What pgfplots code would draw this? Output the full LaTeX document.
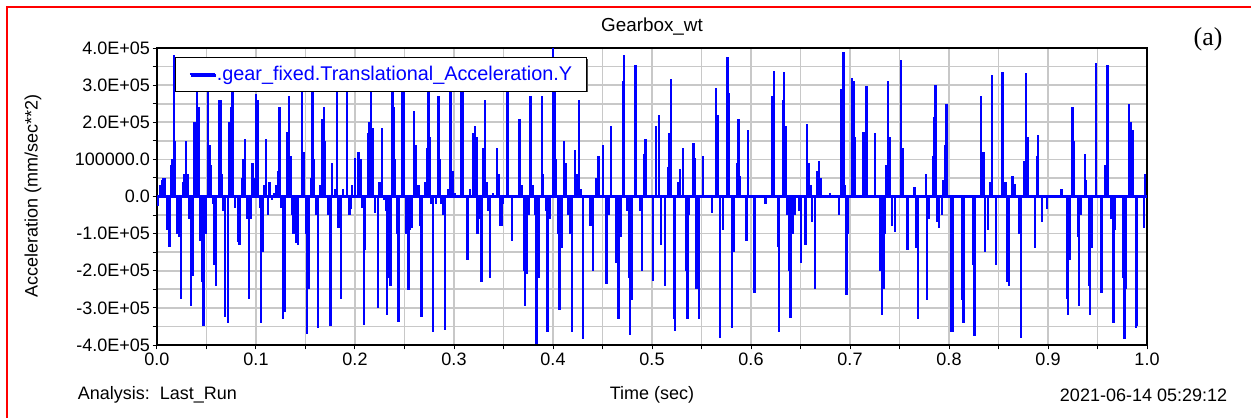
\documentclass[border=0pt]{standalone}
\usepackage{fontspec}
\setmainfont{Liberation Sans}
\newfontfamily\timesf{Liberation Serif}
\usepackage{pgfplots}
\usepackage{pgfplotstable}
\pgfplotsset{compat=1.18}
\usetikzlibrary{shadows}
\newcommand\lbl{\fontsize{10.8}{13}\selectfont}
\newcommand\lgd{\fontsize{11.9}{14}\selectfont}
\definecolor{gridgray}{RGB}{200,200,200}

\pgfplotstableread{
t v
0.0010 -25000
0.0034 30000
0.0051 45000
0.0067 50000
0.0084 50000
0.0101 -90000
0.0125 -137000
0.0145 85000
0.0158 100000
0.0172 380000
0.0185 150000
0.0202 -100000
0.0222 -110000
0.0242 -275000
0.0263 40000
0.0276 60000
0.0290 150000
0.0310 60000
0.0323 -60000
0.0343 -295000
0.0364 -215000
0.0380 200000
0.0404 320000
0.0421 240000
0.0438 -120000
0.0455 -230000
0.0471 -350000
0.0498 -100000
0.0515 330000
0.0532 140000
0.0545 85000
0.0566 -20000
0.0582 -185000
0.0599 -240000
0.0623 260000
0.0640 260000
0.0657 60000
0.0667 -40000
0.0690 -325000
0.0714 -340000
0.0734 200000
0.0747 240000
0.0764 330000
0.0791 -30000
0.0815 -123000
0.0835 -130000
0.0859 50000
0.0869 100000
0.0892 155000
0.0909 -60000
0.0929 -275000
0.0943 -60000
0.0966 90000
0.0983 50000
0.1003 275000
0.1017 260000
0.1044 -30000
0.1050 -340000
0.1067 -150000
0.1084 30000
0.1101 155000
0.1118 -50000
0.1138 40000
0.1162 -10000
0.1185 10000
0.1205 30000
0.1222 70000
0.1239 240000
0.1253 -30000
0.1273 -330000
0.1293 -310000
0.1313 175000
0.1330 270000
0.1347 110000
0.1364 -50000
0.1380 -100000
0.1404 -125000
0.1421 -130000
0.1465 300000
0.1488 120000
0.1502 -100000
0.1515 -370000
0.1532 -250000
0.1556 50000
0.1572 300000
0.1589 100000
0.1609 -50000
0.1626 -355000
0.1650 30000
0.1667 210000
0.1684 240000
0.1700 150000
0.1724 -50000
0.1751 -350000
0.1768 90000
0.1795 20000
0.1818 300000
0.1835 -85000
0.1859 -275000
0.1879 20000
0.1919 330000
0.1943 -50000
0.1953 -35000
0.1970 30000
0.2003 105000
0.2037 120000
0.2061 100000
0.2077 -30000
0.2090 -345000
0.2104 -145000
0.2128 170000
0.2145 200000
0.2162 300000
0.2182 185000
0.2205 -45000
0.2229 -300000
0.2249 40000
0.2273 185000
0.2290 -10000
0.2310 -40000
0.2323 -320000
0.2337 -220000
0.2357 -240000
0.2380 300000
0.2391 240000
0.2407 100000
0.2424 -100000
0.2441 -339000
0.2481 290000
0.2495 330000
0.2515 -100000
0.2539 -253000
0.2556 -90000
0.2572 -85000
0.2596 230000
0.2616 140000
0.2640 30000
0.2657 -80000
0.2673 -325000
0.2707 40000
0.2724 130000
0.2741 300000
0.2758 160000
0.2774 -20000
0.2791 -364000
0.2818 -20000
0.2842 270000
0.2859 100000
0.2875 -20000
0.2892 -50000
0.2909 -360000
0.2943 20000
0.2966 320000
0.2987 70000
0.3010 10000
0.3077 290000
0.3094 290000
0.3128 -130000
0.3135 -170000
0.3162 20000
0.3195 170000
0.3212 190000
0.3229 160000
0.3239 -100000
0.3256 -60000
0.3279 -231000
0.3296 130000
0.3313 260000
0.3330 40000
0.3347 -40000
0.3364 -220000
0.3397 10000
0.3431 130000
0.3448 60000
0.3465 -80000
0.3481 -80000
0.3498 -20000
0.3542 320000
0.3566 5000
0.3586 -120000
0.3660 210000
0.3684 30000
0.3707 -200000
0.3717 -294000
0.3734 -210000
0.3758 -50000
0.3774 270000
0.3795 30000
0.3818 -50000
0.3835 -398000
0.3852 -220000
0.3886 270000
0.3902 60000
0.3929 -40000
0.3946 -364000
0.3970 -60000
0.3997 400000
0.4020 310000
0.4030 100000
0.4054 -100000
0.4064 -305000
0.4088 -140000
0.4111 150000
0.4131 90000
0.4155 -50000
0.4172 -100000
0.4189 -364000
0.4222 125000
0.4239 60000
0.4263 261000
0.4279 20000
0.4306 -385000
0.4357 5000
0.4380 -80000
0.4407 -200000
0.4434 50000
0.4458 110000
0.4502 140000
0.4542 -235000
0.4559 -50000
0.4586 190000
0.4633 -180000
0.4660 -330000
0.4684 -110000
0.4704 310000
0.4717 381000
0.4754 -40000
0.4768 -220000
0.4778 -373000
0.4795 -280000
0.4835 353000
0.4879 -40000
0.4902 -200000
0.4923 115000
0.4936 155000
0.5007 -190000
0.5013 -228000
0.5040 190000
0.5074 220000
0.5091 -130000
0.5131 -240000
0.5165 80000
0.5175 170000
0.5189 317000
0.5222 -330000
0.5232 -361000
0.5266 40000
0.5283 75000
0.5316 130000
0.5343 -200000
0.5360 -330000
0.5377 -50000
0.5418 145000
0.5434 105000
0.5451 -250000
0.5475 -330000
0.5512 110000
0.5603 -45000
0.5646 293000
0.5660 220000
0.5687 -382000
0.5714 -90000
0.5761 376000
0.5778 280000
0.5805 -354000
0.5828 -150000
0.5862 90000
0.5875 210000
0.5889 55000
0.5956 -120000
0.5970 180000
0.6037 -260000
0.6148 -20000
0.6209 270000
0.6232 338000
0.6276 -135000
0.6286 -364000
0.6320 260000
0.6333 335000
0.6350 190000
0.6367 -50000
0.6384 -200000
0.6400 -327000
0.6421 -100000
0.6438 -50000
0.6485 -40000
0.6505 -180000
0.6552 -130000
0.6569 195000
0.6586 90000
0.6603 30000
0.6613 -70000
0.6646 -250000
0.6670 70000
0.6687 95000
0.6704 50000
0.6798 10000
0.6892 -50000
0.6912 290000
0.6933 390000
0.6949 30000
0.6966 -264000
0.6983 -100000
0.7020 320000
0.7034 310000
0.7051 160000
0.7135 175000
0.7152 60000
0.7168 297000
0.7253 170000
0.7303 -200000
0.7320 -320000
0.7337 -250000
0.7354 -100000
0.7370 85000
0.7387 310000
0.7404 160000
0.7421 -80000
0.7455 -95000
0.7515 367000
0.7532 130000
0.7582 -145000
0.7650 25000
0.7667 -140000
0.7687 -330000
0.7768 60000
0.7781 -280000
0.7795 -60000
0.7835 110000
0.7852 215000
0.7865 300000
0.7882 -70000
0.7902 -85000
0.7926 -50000
0.7943 45000
0.7960 140000
0.7976 250000
0.8020 -365000
0.8037 -365000
0.8128 -280000
0.8145 -340000
0.8246 -185000
0.8256 -375000
0.8323 270000
0.8347 120000
0.8364 -150000
0.8397 -90000
0.8414 40000
0.8431 326000
0.8475 -185000
0.8532 230000
0.8542 335000
0.8572 40000
0.8589 -230000
0.8609 -240000
0.8643 55000
0.8660 35000
0.8707 -100000
0.8727 -380000
0.8761 95000
0.8778 332000
0.8795 160000
0.8869 -140000
0.8886 110000
0.8902 165000
0.8936 -70000
0.8987 -35000
0.9138 20000
0.9189 -275000
0.9205 -320000
0.9222 -170000
0.9246 240000
0.9263 150000
0.9300 -110000
0.9316 -295000
0.9330 -50000
0.9374 115000
0.9384 45000
0.9411 -240000
0.9424 -320000
0.9441 -140000
0.9485 360000
0.9542 -260000
0.9576 85000
0.9600 353000
0.9609 120000
0.9643 -60000
0.9660 -340000
0.9677 -90000
0.9761 -220000
0.9774 -385000
0.9788 -250000
0.9818 249000
0.9835 200000
0.9852 180000
0.9889 -355000
0.9902 -350000
0.9970 -85000
0.9980 60000
}\spikes

\begin{document}
\begin{tikzpicture}[x=0.6pt,y=0.6pt]
\useasboundingbox (0,0) rectangle (1251,417);
\fill[white] (0,0) rectangle (1251,417);
\draw[red, line width=1.2pt] (6.5,-2) -- (6.5,410) -- (1253,410);
\begin{axis}[
  at={(94.2pt,43.2pt)}, anchor=south west,
  scale only axis, width=594pt, height=178.2pt,
  xmin=0, xmax=1, ymin=-400000, ymax=400000,
  enlargelimits=false,
  scaled x ticks=false, scaled y ticks=false,
  xtick={0,0.1,0.2,0.3,0.4,0.5,0.6,0.7,0.8,0.9,1},
  xticklabels={0.0,0.1,0.2,0.3,0.4,0.5,0.6,0.7,0.8,0.9,1.0},
  minor xtick={0.05,0.15,0.25,0.35,0.45,0.55,0.65,0.75,0.85,0.95},
  ytick={-400000,-300000,-200000,-100000,0,100000,200000,300000,400000},
  yticklabels={-4.0E+05,-3.0E+05,-2.0E+05,-1.0E+05,0.0,100000.0,2.0E+05,3.0E+05,4.0E+05},
  minor ytick={-350000,-250000,-150000,-50000,50000,150000,250000,350000},
  grid=both,
  major grid style={gridgray, line width=1pt},
  minor grid style={gridgray, line width=1pt},
  tick align=outside, tick pos=left,
  major tick length=2.6pt, minor tick length=2.6pt,
  tick style={black, line width=0.6pt},
  axis line style={black, line width=0.9pt},
  ticklabel style={font=\lbl},
  yticklabel style={inner sep=1.5pt},
  xticklabel style={inner sep=2pt},
  legend style={at={(0.0182,0.9697)}, anchor=north west, draw=black, line width=0.6pt,
    fill=white, font=\lgd, text=blue, inner xsep=8pt, inner ysep=3pt,
    drop shadow={shadow xshift=0.8pt, shadow yshift=-0.8pt, fill=black!70, opacity=1},
    nodes={inner xsep=0.5pt}},
  legend image code/.code={\draw[blue, line width=1.3pt] (0pt,0pt) -- (15pt,0pt);},
]
\addplot[blue, line width=1.4pt] coordinates {(0,0) (1,0)};
\addlegendentry{.gear\_fixed.Translational\_Acceleration.Y}
\addplot[blue, line width=1.4pt, ycomb, forget plot] table[x=t, y=v] {\spikes};
\end{axis}
\node[font=\fontsize{11.3}{13}\selectfont] at (652,390) {Gearbox\_wt};
\node[font=\timesf\fontsize{15.5}{18}\selectfont] at (1208,378) {(a)};
\node[font=\lbl, rotate=90] at (33,221) {Acceleration (mm/sec**2)};
\node[font=\lbl, anchor=west] at (72,22) {Analysis:\ \ Last\_Run};
\node[font=\lbl] at (652,22) {Time (sec)};
\node[font=\lbl, anchor=east] at (1233,22) {2021-06-14 05:29:12};
\end{tikzpicture}
\end{document}
